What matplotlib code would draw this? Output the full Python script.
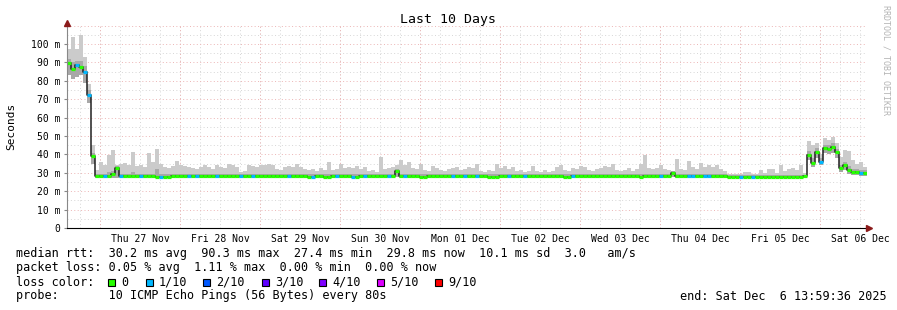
import numpy as np
import pandas as pd
import matplotlib
matplotlib.use("Agg")
import matplotlib.pyplot as plt
import matplotlib.dates as mdates
from matplotlib.patches import Rectangle

# median rtt per 72 min step (ms), 10 days ending Sat Dec 6 13:59:36 2025
median_ms = [
    89.5, 86.5, 88.3, 87.5, 84.5, 72.5, 39.0, 28.0, 28.2, 28.2,
    28.3, 29.5, 32.5, 28.2, 28.2, 28.1, 28.2, 28.3, 28.2, 28.2,
    28.2, 28.1, 27.7, 27.7, 27.8, 27.8, 28.0, 28.2, 28.2, 28.3,
    28.2, 28.2, 28.2, 28.1, 28.2, 28.2, 28.3, 28.2, 28.2, 28.2,
    28.2, 28.1, 28.2, 28.2, 28.4, 28.2, 28.2, 28.2, 28.3, 28.2,
    28.2, 28.2, 28.2, 28.3, 28.2, 28.2, 28.2, 28.0, 28.2, 28.2,
    27.8, 27.9, 28.2, 28.2, 27.7, 27.7, 28.0, 28.2, 28.2, 28.2,
    28.2, 27.8, 27.8, 28.0, 28.2, 28.2, 28.2, 28.0, 28.2, 28.2,
    28.2, 28.2, 31.0, 28.3, 28.2, 28.2, 28.2, 28.1, 27.9, 27.9,
    28.2, 28.2, 28.2, 28.2, 28.2, 28.1, 28.2, 28.2, 28.2, 28.2,
    28.2, 28.2, 28.2, 28.3, 28.2, 27.9, 27.9, 27.9, 28.2, 28.2,
    28.2, 28.2, 28.2, 28.2, 28.2, 28.2, 28.1, 28.2, 28.2, 28.2,
    28.2, 28.2, 28.2, 28.0, 27.9, 27.9, 28.2, 28.2, 28.2, 28.2,
    28.2, 28.2, 28.0, 28.0, 28.2, 28.2, 28.2, 28.2, 28.2, 28.2,
    28.2, 28.2, 28.0, 27.9, 28.2, 28.2, 28.2, 28.2, 28.2, 28.2,
    28.4, 30.0, 28.3, 28.3, 28.3, 28.3, 28.3, 28.3, 28.3, 28.3,
    28.3, 28.3, 28.3, 28.3, 28.0, 27.8, 27.8, 27.8, 27.8, 27.8,
    27.8, 27.8, 27.8, 27.8, 27.8, 27.8, 27.8, 27.8, 27.8, 27.8,
    27.8, 27.8, 27.8, 27.8, 28.0, 39.7, 35.5, 41.5, 36.0, 43.3,
    43.0, 44.2, 41.5, 32.5, 34.0, 31.5, 30.6, 30.6, 29.7, 30.0,
]

# slowest ping of each step (top of the smoke)
smoke_max = [
    97, 104, 97, 105, 93, 78, 45, 31.5, 36, 34,
    39.5, 42.5, 34, 35, 35.5, 34.5, 41.5, 33.5, 34, 33,
    40.5, 36, 43, 35, 33, 32.5, 33.5, 36.5, 34, 33.5,
    33, 32.5, 32, 33, 34.5, 33, 32, 34, 33, 32.5,
    35, 34, 33, 30.5, 31, 34, 33.5, 33, 34.5, 34,
    35, 34.5, 32, 31.5, 33, 33.5, 33, 35, 33, 32,
    31.5, 32, 31, 32.5, 31.5, 36, 31.5, 32, 35, 32.5,
    33, 32.5, 33.5, 32, 33, 31, 31.5, 30.5, 38.5, 32,
    32.5, 33, 34.5, 37, 34.5, 36, 32.5, 32, 35, 31.5,
    31, 33.5, 32.5, 31.5, 31, 32, 32.5, 33, 31.5, 32,
    33, 32.5, 35, 31, 30.5, 31.5, 31, 35, 32.5, 33.5,
    32, 33, 31, 31.5, 30.5, 31, 33.5, 31, 30.5, 31.5,
    30.5, 31, 33, 34, 31.5, 31, 32.5, 32, 33.5, 33,
    31.5, 31, 32, 32.5, 33.5, 33, 35, 31.5, 31, 31.5,
    32.5, 31, 32, 35, 39.5, 32.5, 32, 32.5, 34, 32,
    31.5, 31, 37.5, 32, 31.5, 36.5, 33, 32, 35.5, 33,
    34, 33, 34, 32, 31, 29.3, 29.2, 29.3, 29.2, 30.6,
    30.5, 29.2, 29.5, 31.5, 29.7, 32.3, 32, 29.8, 34, 31,
    32, 32.5, 31.5, 34, 30, 47, 45, 46, 40, 49,
    48, 49.5, 46, 38.5, 42.5, 42, 37, 35, 36, 33,
]

# upper quartile of the pings (darker smoke)
smoke_q3 = [
    92, 90, 91, 91, 88, 75, 41, 29.4, 29.4, 29.6,
    30.5, 31, 33.5, 29.4, 29.4, 29.4, 30.5, 29.4, 29.4, 29.4,
    29.4, 29.4, 32, 29.4, 29.4, 29.4, 29.4, 29.6, 29.4, 29.4,
    29.4, 29.4, 29.4, 29.4, 29.4, 29.4, 29.4, 29.4, 29.4, 29.4,
    29.6, 29.4, 29.4, 29.4, 29.4, 29.4, 29.4, 29.4, 29.4, 29.4,
    29.4, 29.4, 29.4, 29.4, 29.4, 29.4, 29.4, 29.6, 29.4, 29.4,
    29.4, 29.4, 29.4, 29.4, 29.4, 29.4, 29.4, 29.4, 29.4, 29.4,
    29.4, 29.4, 29.4, 29.4, 29.4, 29.4, 29.4, 29.4, 29.6, 29.4,
    29.4, 29.4, 32, 29.4, 29.4, 29.4, 29.4, 29.4, 29.4, 29.4,
    29.4, 29.4, 29.4, 29.4, 29.4, 29.4, 29.4, 29.4, 29.4, 29.4,
    29.4, 29.4, 29.4, 29.4, 29.4, 29.4, 29.4, 29.4, 29.4, 29.4,
    29.4, 29.4, 29.4, 29.4, 29.4, 29.4, 29.4, 29.4, 29.4, 29.4,
    29.4, 29.4, 29.4, 29.4, 29.4, 29.4, 29.4, 29.4, 29.4, 29.4,
    29.4, 29.4, 29.4, 29.4, 29.4, 29.4, 29.4, 29.4, 29.4, 29.4,
    29.4, 29.4, 29.4, 29.4, 29.6, 29.4, 29.4, 29.4, 29.4, 29.4,
    29.4, 31, 29.4, 29.4, 29.4, 29.4, 29.4, 29.4, 29.4, 29.4,
    29.4, 29.4, 29.4, 29.4, 29.4, 28.8, 28.8, 28.8, 28.8, 28.8,
    28.8, 28.8, 28.8, 28.8, 28.8, 28.8, 28.8, 28.8, 28.8, 28.8,
    28.8, 28.8, 28.8, 28.8, 29.0, 42, 38, 43.5, 38, 45,
    45, 46, 43, 34, 36, 33.5, 32, 32, 31.5, 31.5,
]

# fastest ping of each step (bottom of the smoke)
smoke_min = [
    83, 81, 82, 83, 79, 68, 35, 27.4, 27.4, 27.4,
    27.4, 27.4, 27.4, 27.4, 27.4, 27.4, 27.4, 27.4, 27.4, 27.4,
    27.2, 27.2, 27.1, 27.1, 27.2, 27.2, 27.4, 27.4, 27.4, 27.4,
    27.4, 27.4, 27.4, 27.4, 27.4, 27.4, 27.4, 27.4, 27.4, 27.4,
    27.4, 27.4, 27.4, 27.4, 27.4, 27.4, 27.4, 27.4, 27.4, 27.4,
    27.4, 27.4, 27.4, 27.4, 27.4, 27.4, 27.4, 27.4, 27.4, 27.4,
    27.2, 27.2, 27.4, 27.4, 27.1, 27.1, 27.4, 27.4, 27.4, 27.4,
    27.4, 27.2, 27.2, 27.4, 27.4, 27.4, 27.4, 27.4, 27.4, 27.4,
    27.4, 27.4, 27.6, 27.4, 27.4, 27.4, 27.4, 27.4, 27.2, 27.2,
    27.4, 27.4, 27.4, 27.4, 27.4, 27.4, 27.4, 27.4, 27.4, 27.4,
    27.4, 27.4, 27.4, 27.4, 27.4, 27.2, 27.2, 27.2, 27.4, 27.4,
    27.4, 27.4, 27.4, 27.4, 27.4, 27.4, 27.4, 27.4, 27.4, 27.4,
    27.4, 27.4, 27.4, 27.4, 27.2, 27.2, 27.4, 27.4, 27.4, 27.4,
    27.4, 27.4, 27.4, 27.4, 27.4, 27.4, 27.4, 27.4, 27.4, 27.4,
    27.4, 27.4, 27.4, 27.2, 27.4, 27.4, 27.4, 27.4, 27.4, 27.4,
    27.4, 27.6, 27.4, 27.4, 27.4, 27.4, 27.4, 27.4, 27.4, 27.4,
    27.4, 27.4, 27.4, 27.4, 27.4, 27.2, 27.2, 27.2, 27.2, 27.2,
    27.2, 27.2, 27.2, 27.2, 27.2, 27.2, 27.2, 27.2, 27.2, 27.2,
    27.2, 27.2, 27.2, 27.2, 27.2, 37, 33, 38, 34, 41,
    40, 41, 38, 30.5, 31.5, 29.5, 29, 29, 28.5, 28.5,
]

# lost pings per step (out of 10)
loss = [0] * 200
for i in [2, 4, 5, 9, 13, 18, 23, 30, 32, 37, 43, 46, 55, 61, 67, 71, 74, 80, 84,
          96, 99, 102, 110, 114, 126, 148, 155, 156, 159, 160, 168, 171, 188, 198]:
    loss[i] = 1

loss_labels = ["0", "1/10", "2/10", "3/10", "4/10", "5/10", "9/10"]
loss_colors = ["#26ff00", "#00b8ff", "#0059ff", "#5e00ff", "#7e00ff", "#dd00ff", "#ff0000"]

start = pd.Timestamp("2025-11-26 13:59:36")
times = pd.date_range(start, periods=len(median_ms) + 1, freq="72min")
t = mdates.date2num(times.to_pydatetime())

W, H = 897, 310
fig = plt.figure(figsize=(W / 100, H / 100), dpi=100)
fig.patch.set_facecolor("white")
mono = "DejaVu Sans Mono"


def px(x, y):
    return x / W, 1 - y / H


ax = fig.add_axes([67 / W, (H - 228) / H, 800 / W, 203 / H])
ax.set_xlim(t[0], t[-1])
ax.set_ylim(0, 110.3)

# smoke
hi = np.append(smoke_max, smoke_max[-1])
q3 = np.append(smoke_q3, smoke_q3[-1])
lo = np.append(smoke_min, smoke_min[-1])
ax.fill_between(t, lo, hi, step="post", color="#cbcbcb", lw=0, zorder=2)
ax.fill_between(t, lo, q3, step="post", color="#a8a8a8", lw=0, zorder=3)

# median line coloured by loss
med = np.append(median_ms, median_ms[-1])
ax.step(t, med, where="post", color="#202020", lw=1.1, zorder=4)
ax.hlines(median_ms, t[:-1], t[1:], colors=[loss_colors[l] for l in loss],
          lw=2.3, zorder=5)

# grid
dots = (0, (1, 2.5))
minor_x = mdates.date2num(pd.date_range("2025-11-26 18:00", "2025-12-06 12:00", freq="6h").to_pydatetime())
major_x = mdates.date2num(pd.date_range("2025-11-27", periods=10, freq="D").to_pydatetime())
for x in minor_x:
    ax.axvline(x, color="#d6d6d6", lw=0.7, ls=dots, zorder=1)
for x in major_x:
    ax.axvline(x, color="#ecb4b4", lw=0.7, ls=dots, zorder=1)
for y in np.arange(5, 110, 10):
    ax.axhline(y, color="#d6d6d6", lw=0.7, ls=dots, zorder=1)
for y in np.arange(10, 111, 10):
    ax.axhline(y, color="#ecb4b4", lw=0.7, ls=dots, zorder=1)

# ticks
noon = pd.date_range("2025-11-27 12:00", periods=10, freq="D")
ax.set_xticks(mdates.date2num(noon.to_pydatetime()))
ax.set_xticklabels([d.strftime("%a %d %b") for d in noon], fontfamily=mono, fontsize=7)
yt = np.arange(0, 101, 10)
ax.set_yticks(yt)
ax.set_yticklabels(["0"] + [f"{v} m" for v in yt[1:]], fontfamily=mono, fontsize=7)
ax.tick_params(axis="x", length=0, pad=4)
ax.tick_params(axis="y", length=2, pad=3, color="#888888")

for s in ["top", "right"]:
    ax.spines[s].set_visible(False)
ax.spines["left"].set_color("#888888")
ax.spines["bottom"].set_color("#000000")
ax.spines["left"].set_zorder(6)
ax.spines["bottom"].set_zorder(6)
ax.plot([t[-1], t[-1] + 0.02], [0, 0], color="black", lw=0.8, clip_on=False)
ax.plot([t[-1] + 0.03], [0], marker=">", color="#8b1a1a", ms=4, clip_on=False, zorder=7)
ax.plot([t[0]], [111.5], marker="^", color="#8b1a1a", ms=4, clip_on=False, zorder=7)
ax.set_facecolor("white")

# texts
fig.text(*px(448, 19), "Last 10 Days", fontfamily=mono, fontsize=9.5, ha="center", va="center")
fig.text(*px(11, 126), "Seconds", fontfamily=mono, fontsize=8, rotation=90, ha="center", va="center")
fig.text(*px(886, 60), "RRDTOOL / TOBI OETIKER", fontfamily=mono, fontsize=6, rotation=270,
         ha="center", va="center", color="#b4b4b4")

fs = 8.5
fig.text(*px(16, 254), "median rtt:  30.2 ms avg  90.3 ms max  27.4 ms min  29.8 ms now  10.1 ms sd  3.0   am/s",
         fontfamily=mono, fontsize=fs, va="center")
fig.text(*px(16, 268), "packet loss: 0.05 % avg  1.11 % max  0.00 % min  0.00 % now",
         fontfamily=mono, fontsize=fs, va="center")
fig.text(*px(16, 282), "loss color:", fontfamily=mono, fontsize=fs, va="center")
box_x = [108, 146, 203, 262, 319, 377, 435]
for bx, lab, col in zip(box_x, loss_labels, loss_colors):
    fig.patches.append(Rectangle(px(bx, 286), 7 / W, 7 / H, transform=fig.transFigure,
                                 facecolor=col, edgecolor="black", lw=0.8))
    fig.text(*px(bx + 13, 282), lab, fontfamily=mono, fontsize=fs, va="center")
fig.text(*px(16, 296), "probe:       10 ICMP Echo Pings (56 Bytes) every 80s",
         fontfamily=mono, fontsize=fs, va="center")
fig.text(*px(680, 296), "end: Sat Dec  6 13:59:36 2025", fontfamily=mono, fontsize=fs, va="center")

fig.savefig("out.png", dpi=100)
